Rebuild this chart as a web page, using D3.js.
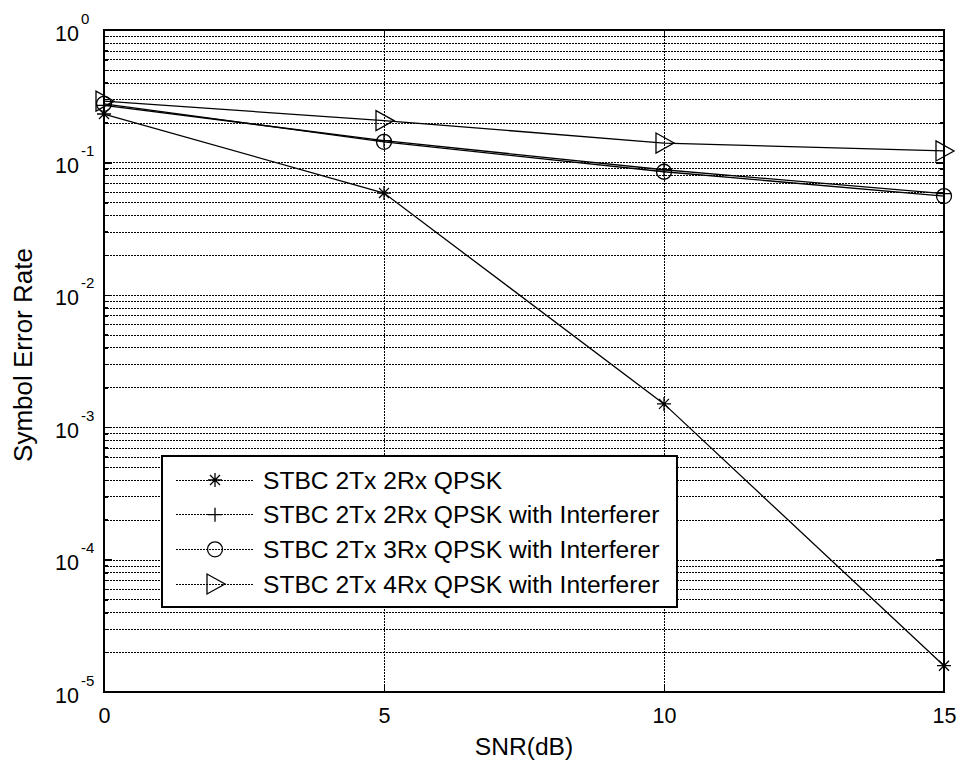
<!DOCTYPE html>
<html lang="en">
<head>
  <meta charset="UTF-8">
  <title>Symbol Error Rate vs SNR</title>
  <style>
    body {
      margin: 0;
      padding: 0;
      background: #fff;
    }

    svg text {
      font-family: Arial, "Liberation Sans", sans-serif;
      fill: #000;
    }

    .grid line {
      stroke: #000;
      stroke-width: 1;
      stroke-dasharray: 2,1;
      shape-rendering: crispEdges;
    }

    .grid path,
    .labels path,
    .ticks path {
      display: none;
    }

    .ticks line {
      stroke: #000;
      stroke-width: 1.5;
      shape-rendering: crispEdges;
    }
  </style>
</head>
<body>
  <svg id="chart" width="965" height="762"></svg>
  <script src="https://d3js.org/d3.v7.min.js"></script>
  <script>
    // values
    const snrValues = [0, 5, 10, 15];
    const ser2Rx = [0.232, 0.0587, 0.0015, 0.0000158];
    const ser2RxInt = [0.27, 0.146, 0.088, 0.058];
    const ser3RxInt = [0.277, 0.143, 0.085, 0.0557];
    const ser4RxInt = [0.29, 0.207, 0.14, 0.122];

    const seriesNames = [
      'STBC 2Tx 2Rx QPSK',
      'STBC 2Tx 2Rx QPSK with Interferer',
      'STBC 2Tx 3Rx QPSK with Interferer',
      'STBC 2Tx 4Rx QPSK with Interferer'
    ];
    const seriesMarkers = ['star', 'plus', 'circle', 'triangle'];
    const seriesValues = [ser2Rx, ser2RxInt, ser3RxInt, ser4RxInt];

    const xTicks = [0, 5, 10, 15];
    const yExponents = [0, -1, -2, -3, -4, -5];

    const margin = { top: 30, right: 21, bottom: 70, left: 104 };
    const width = 965 - margin.left - margin.right;
    const height = 762 - margin.top - margin.bottom;

    const svg = d3.select('#chart')
      .append('g')
      .attr('transform', `translate(${margin.left}, ${margin.top})`);

    const xScale = d3.scaleLinear()
      .domain([0, 15])
      .range([0, width]);

    const yScale = d3.scaleLog()
      .domain([1e-5, 1])
      .range([height, 0]);

    const yDecades = yExponents.map(e => Math.pow(10, e));
    const yMinor = [];
    yExponents.slice(1).forEach(e => {
      for (let m = 2; m <= 9; m++) yMinor.push(m * Math.pow(10, e));
    });

    // Grid lines (dotted, major and minor alike)
    svg.append('g')
      .attr('class', 'grid')
      .call(d3.axisLeft(yScale)
        .tickValues(yDecades.concat(yMinor))
        .tickSize(-width)
        .tickFormat(''));

    svg.append('g')
      .attr('class', 'grid')
      .attr('transform', `translate(0, ${height})`)
      .call(d3.axisBottom(xScale)
        .tickValues(xTicks)
        .tickSize(-height)
        .tickFormat(''));

    // Inward ticks on all four sides
    svg.append('g').attr('class', 'ticks')
      .call(d3.axisLeft(yScale).tickValues(yDecades).tickSize(-8).tickFormat(''));
    svg.append('g').attr('class', 'ticks')
      .call(d3.axisLeft(yScale).tickValues(yMinor).tickSize(-4).tickFormat(''));
    svg.append('g').attr('class', 'ticks')
      .attr('transform', `translate(${width}, 0)`)
      .call(d3.axisRight(yScale).tickValues(yDecades).tickSize(-8).tickFormat(''));
    svg.append('g').attr('class', 'ticks')
      .attr('transform', `translate(${width}, 0)`)
      .call(d3.axisRight(yScale).tickValues(yMinor).tickSize(-4).tickFormat(''));
    svg.append('g').attr('class', 'ticks')
      .attr('transform', `translate(0, ${height})`)
      .call(d3.axisBottom(xScale).tickValues(xTicks).tickSize(-8).tickFormat(''));
    svg.append('g').attr('class', 'ticks')
      .call(d3.axisTop(xScale).tickValues(xTicks).tickSize(-8).tickFormat(''));

    // Frame
    svg.append('rect')
      .attr('x', 0)
      .attr('y', 0)
      .attr('width', width)
      .attr('height', height)
      .attr('fill', 'none')
      .attr('stroke', '#000')
      .attr('stroke-width', 1.5)
      .attr('shape-rendering', 'crispEdges');

    // Y tick labels: 10 with superscript exponent
    const yLabels = svg.append('g')
      .attr('class', 'labels')
      .call(d3.axisLeft(yScale).tickValues(yDecades).tickSize(0).tickFormat(''));

    yLabels.selectAll('.tick line').remove();
    yLabels.selectAll('.tick text').each(function(d) {
      const t = d3.select(this)
        .attr('x', -49)
        .attr('dy', 10)
        .attr('text-anchor', 'start')
        .style('font-size', '21.5px');
      t.text('10');
      t.append('tspan')
        .attr('dx', 2)
        .attr('dy', -17)
        .style('font-size', '15px')
        .text(String(Math.round(Math.log10(d))));
    });

    // X tick labels
    const xLabels = svg.append('g')
      .attr('class', 'labels')
      .attr('transform', `translate(0, ${height})`)
      .call(d3.axisBottom(xScale).tickValues(xTicks).tickSize(0).tickFormat(d3.format('d')));

    xLabels.selectAll('.tick line').remove();
    xLabels.selectAll('.tick text')
      .attr('y', 31)
      .attr('dy', 0)
      .style('font-size', '21.5px');

    // Marker shapes
    function markerPath(kind) {
      if (kind === 'star') return 'M-7,0H7M0,-7V7M-5,-5L5,5M-5,5L5,-5';
      if (kind === 'plus') return 'M-7,0H7M0,-7V7';
      if (kind === 'triangle') return 'M-8,-10L-8,10L10,0Z';
      return null;
    }

    function drawMarker(g, kind) {
      if (kind === 'circle') {
        g.append('circle')
          .attr('r', 7.5)
          .attr('fill', 'none')
          .attr('stroke', '#000')
          .attr('stroke-width', 1.3);
      } else {
        g.append('path')
          .attr('d', markerPath(kind))
          .attr('fill', 'none')
          .attr('stroke', '#000')
          .attr('stroke-width', 1.3);
      }
    }

    const line = d3.line()
      .x((d, i) => xScale(snrValues[i]))
      .y(d => yScale(d));

    // Lines + markers
    seriesValues.forEach((vals, s) => {
      svg.append('path')
        .datum(vals)
        .attr('d', line)
        .attr('fill', 'none')
        .attr('stroke', '#000')
        .attr('stroke-width', 1.3);

      vals.forEach((v, i) => {
        const g = svg.append('g')
          .attr('transform', `translate(${xScale(snrValues[i])}, ${yScale(v)})`);
        drawMarker(g, seriesMarkers[s]);
      });
    });

    // Legend
    const legend = svg.append('g')
      .attr('transform', `translate(${162 - margin.left}, ${456 - margin.top})`);

    legend.append('rect')
      .attr('width', 515)
      .attr('height', 151)
      .attr('fill', '#fff')
      .attr('stroke', '#000')
      .attr('stroke-width', 1.5)
      .attr('shape-rendering', 'crispEdges');

    const rowY = d3.scaleLinear().domain([0, 3]).range([24, 128]);

    seriesNames.forEach((name, i) => {
      const row = legend.append('g')
        .attr('transform', `translate(0, ${rowY(i)})`);

      row.append('line')
        .attr('x1', 14)
        .attr('x2', 92)
        .attr('stroke', '#000')
        .attr('stroke-dasharray', '2,1')
        .attr('shape-rendering', 'crispEdges');

      const m = row.append('g').attr('transform', 'translate(53, 0)');
      drawMarker(m, seriesMarkers[i]);

      row.append('text')
        .attr('x', 101)
        .attr('y', 8.5)
        .style('font-size', '24.6px')
        .text(name);
    });

    // Axis titles
    svg.append('text')
      .attr('x', width / 2)
      .attr('y', height + 63)
      .attr('text-anchor', 'middle')
      .style('font-size', '24.6px')
      .text('SNR(dB)');

    svg.append('text')
      .attr('transform', `translate(${32 - margin.left}, ${355 - margin.top}) rotate(-90)`)
      .attr('text-anchor', 'middle')
      .style('font-size', '26px')
      .text('Symbol Error Rate');
  </script>
</body>
</html>
